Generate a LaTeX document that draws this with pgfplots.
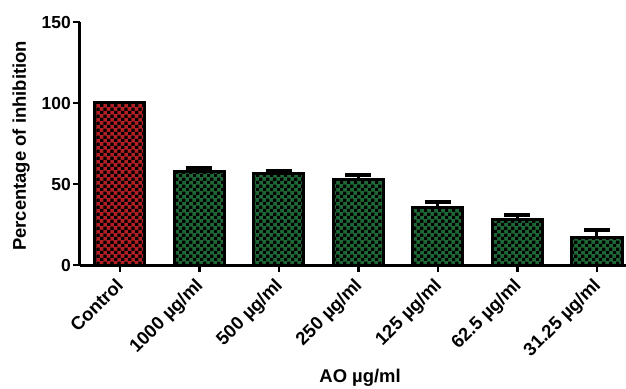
\documentclass[border=0pt]{standalone}
\usepackage{pgfplots}
\pgfplotsset{compat=1.18}
\usepackage{fontspec}
\setmainfont{Liberation Sans}
\usetikzlibrary{patterns.meta}
\definecolor{barred}{RGB}{178,32,38}
\definecolor{bargreen}{RGB}{30,104,54}
\tikzdeclarepattern{
  name=checks,
  type=uncolored,
  bottom left={(0pt,0pt)},
  top right={(7.2pt,7.2pt)},
  tile size={(7.2pt,7.2pt)},
  code={
    \fill (0pt,0pt) rectangle (3.6pt,3.6pt);
    \fill (3.6pt,3.6pt) rectangle (7.2pt,7.2pt);
  }
}
\begin{document}
\begin{tikzpicture}
\begin{axis}[
  scale only axis, width=546bp, height=243bp,
  xmin=-0.5, xmax=6.365, ymin=0, ymax=150,
  axis lines=left,
  axis line style={line width=3bp, -},
  ytick={0,50,100,150},
  yticklabels={0,50,100,150},
  xtick={0,1,2,3,4,5,6},
  xticklabels={Control, 1000 µg/ml, 500 µg/ml, 250 µg/ml, 125 µg/ml, 62.5 µg/ml, 31.25 µg/ml},
  xticklabel style={rotate=45, anchor=north east, font=\fontsize{18.5}{20}\selectfont\bfseries, inner sep=1pt, yshift=1bp, xshift=-6bp},
  yticklabel style={font=\fontsize{17.5}{20}\selectfont\bfseries, inner sep=2pt},
  tick style={black, line width=2.5bp},
  tick align=outside,
  major tick length=7bp,
  ylabel={Percentage of inhibition},
  xlabel={AO µg/ml},
  label style={font=\fontsize{18.5}{20}\selectfont\bfseries},
  ylabel style={at={(axis description cs:-0.108,0.49)}, anchor=center},
  xlabel style={at={(axis description cs:0.513,-0.465)}, anchor=center},
  ybar, bar width=0.63,
  clip=false,
]
\addplot[bar shift=0pt, draw=black, line width=3bp, fill=barred,
  postaction={pattern={checks}, pattern color=black}]
  coordinates {(0,100)};
\addplot[bar shift=0pt, draw=black, line width=3bp, fill=bargreen,
  postaction={pattern={checks}, pattern color=black},
  error bars/.cd, y dir=plus, y explicit,
  error bar style={line width=3bp, black},
  error mark=|,
  error mark options={black, line width=4bp, mark size=13bp}]
  coordinates {
    (1,57.9) +- (0,1.8)
    (2,56.3) +- (0,1.8)
    (3,53.0) +- (0,2.3)
    (4,35.4) +- (0,3.5)
    (5,27.8) +- (0,3.1)
    (6,17.0) +- (0,4.3)
  };
\end{axis}
\pgfresetboundingbox
\path (-80bp,-124bp) rectangle (546bp,265bp);
\end{tikzpicture}
\end{document}
